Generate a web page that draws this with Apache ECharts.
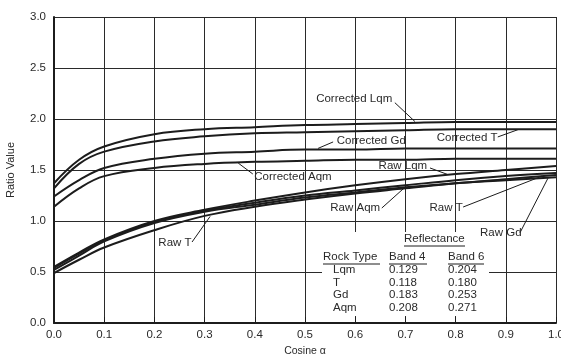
<!DOCTYPE html>
<html>
<head>
<meta charset="utf-8">
<script src="https://cdn.jsdelivr.net/npm/echarts@6/dist/echarts.min.js"></script>
<style>
html,body{margin:0;padding:0;background:#fff;}
#chart{width:561px;height:356px;}
</style>
</head>
<body>
<div id="chart"></div>
<script>
// ---- data ----
const cosineAlpha   = [0, 0.05, 0.1, 0.2, 0.3, 0.4, 0.5, 0.6, 0.7, 0.8, 0.9, 1.0];
const correctedLqm  = [1.37, 1.60, 1.73, 1.85, 1.90, 1.92, 1.94, 1.95, 1.96, 1.97, 1.97, 1.97];
const correctedT    = [1.32, 1.56, 1.68, 1.78, 1.83, 1.86, 1.87, 1.88, 1.89, 1.90, 1.90, 1.90];
const correctedGd   = [1.24, 1.40, 1.52, 1.61, 1.66, 1.68, 1.70, 1.70, 1.71, 1.71, 1.71, 1.71];
const correctedAqm  = [1.14, 1.32, 1.44, 1.52, 1.56, 1.58, 1.59, 1.60, 1.60, 1.61, 1.61, 1.61];
const rawLqm        = [0.55, 0.69, 0.82, 1.00, 1.11, 1.20, 1.28, 1.35, 1.41, 1.46, 1.50, 1.54];
const rawAqm        = [0.54, 0.68, 0.81, 0.99, 1.10, 1.18, 1.25, 1.30, 1.35, 1.40, 1.44, 1.47];
const rawGd         = [0.52, 0.66, 0.80, 0.98, 1.09, 1.16, 1.23, 1.28, 1.33, 1.37, 1.40, 1.43];
const rawT          = [0.49, 0.62, 0.74, 0.91, 1.05, 1.14, 1.21, 1.27, 1.32, 1.37, 1.41, 1.45];

const yTickLabels = ['0.0', '0.5', '1.0', '1.5', '2.0', '2.5', '3.0'];
const xTickLabels = ['0.0', '0.1', '0.2', '0.3', '0.4', '0.5', '0.6', '0.7', '0.8', '0.9', '1.0'];

const rockTypes = ['Lqm', 'T', 'Gd', 'Aqm'];
const band4     = ['0.129', '0.118', '0.183', '0.208'];
const band6     = ['0.204', '0.180', '0.253', '0.271'];

// annotation labels (data coordinates): text position, leader line start/end
const annotations = [
  { text: 'Corrected Lqm', at: [0.598, 2.20], from: [0.679, 2.16], to: [0.719, 1.975] },
  { text: 'Corrected Gd',  at: [0.632, 1.784], from: [0.556, 1.775], to: [0.526, 1.712] },
  { text: 'Corrected T',   at: [0.823, 1.814], from: [0.884, 1.824], to: [0.924, 1.895] },
  { text: 'Corrected Aqm', at: [0.476, 1.431], from: [0.396, 1.461], to: [0.367, 1.568] },
  { text: 'Raw Lqm',       at: [0.695, 1.540], from: [0.749, 1.520], to: [0.783, 1.458] },
  { text: 'Raw Aqm',       at: [0.600, 1.127], from: [0.653, 1.127], to: [0.699, 1.330] },
  { text: 'Raw T',         at: [0.781, 1.127], from: [0.815, 1.137], to: [0.972, 1.440] },
  { text: 'Raw Gd',        at: [0.890, 0.882], from: [0.928, 0.882], to: [0.984, 1.420] },
  { text: 'Raw T',         at: [0.241, 0.784], from: [0.275, 0.794], to: [0.311, 1.045] }
];

// ---- chart ----
const FONT = 'Liberation Sans, Arial, sans-serif';
const INK = '#1c1c1c';
const TXT = '#2a2a2a';

function zip(ys) { return cosineAlpha.map((x, i) => [x, ys[i]]); }

const curves = [
  ['Corrected Lqm', correctedLqm], ['Corrected T', correctedT],
  ['Corrected Gd', correctedGd], ['Corrected Aqm', correctedAqm],
  ['Raw Lqm', rawLqm], ['Raw Aqm', rawAqm], ['Raw Gd', rawGd], ['Raw T', rawT]
];

const series = curves.map(([name, ys]) => ({
  name: name,
  type: 'line',
  data: zip(ys),
  symbol: 'none',
  smooth: 0.4,
  lineStyle: { color: INK, width: 2 },
  silent: true,
  z: 3
}));

series.push({
  name: 'annotations',
  type: 'line',
  data: [],
  symbol: 'none',
  silent: true,
  z: 4,
  markLine: {
    silent: true,
    symbol: ['none', 'arrow'],
    symbolSize: [0, 6],
    lineStyle: { color: INK, width: 1, type: 'solid' },
    label: { show: false },
    data: annotations.map(a => [{ coord: a.from }, { coord: a.to }])
  },
  markPoint: {
    silent: true,
    symbol: 'circle',
    symbolSize: 0,
    itemStyle: { color: 'transparent' },
    label: {
      show: true,
      position: 'inside',
      color: TXT,
      fontFamily: FONT,
      fontSize: 11.5,
      formatter: p => p.name
    },
    data: annotations.map(a => ({ name: a.text, coord: a.at }))
  }
});

// reflectance table (drawn as text over a white box that hides the grid)
const tbl = [];
tbl.push({ type: 'rect', shape: { x: 322, y: 232, width: 167, height: 84 }, style: { fill: '#fff' }, z: 1, silent: true });
function txt(s, x, y) {
  tbl.push({ type: 'text', x: x, y: y, z: 51, silent: true,
    style: { text: s, fill: TXT, font: '11.5px ' + FONT, verticalAlign: 'middle', align: 'left' } });
}
function rule(x1, x2, y) {
  tbl.push({ type: 'line', z: 51, silent: true, shape: { x1: x1, y1: y, x2: x2, y2: y }, style: { stroke: INK, lineWidth: 1 } });
}
txt('Reflectance', 404, 239); rule(404, 465, 246);
txt('Rock Type', 323, 257); txt('Band 4', 389, 257); txt('Band 6', 448, 257);
rule(323, 380, 264); rule(389, 427, 264); rule(448, 484, 264);
const rowY = [270, 282.5, 295, 307.5];
rockTypes.forEach((r, i) => {
  txt(r, 333, rowY[i]);
  txt(band4[i], 389, rowY[i]);
  txt(band6[i], 448, rowY[i]);
});

const chart = echarts.init(document.getElementById('chart'), null, { renderer: 'canvas' });
chart.setOption({
  animation: false,
  backgroundColor: '#ffffff',
  grid: { left: 54, right: 5, top: 17, bottom: 33, containLabel: false, outerBoundsMode: 'none' },
  xAxis: {
    type: 'value', min: 0, max: 1, interval: 0.1,
    name: 'Cosine α', nameLocation: 'middle', nameGap: 21,
    nameTextStyle: { color: TXT, fontFamily: FONT, fontSize: 10.5 },
    axisLine: { show: true, lineStyle: { color: INK, width: 2 } },
    axisTick: { show: true, inside: true, length: 6, lineStyle: { color: INK, width: 1 } },
    axisLabel: { color: TXT, fontFamily: FONT, fontSize: 11.5, margin: 6,
      formatter: (v) => xTickLabels[Math.round(v * 10)] },
    splitLine: { show: true, lineStyle: { color: '#2a2a2a', width: 1 } }
  },
  yAxis: {
    type: 'value', min: 0, max: 3, interval: 0.5,
    name: 'Ratio Value', nameLocation: 'middle', nameGap: 38,
    nameTextStyle: { color: TXT, fontFamily: FONT, fontSize: 11 },
    axisLine: { show: true, lineStyle: { color: INK, width: 2 } },
    axisTick: { show: false },
    axisLabel: { color: TXT, fontFamily: FONT, fontSize: 11.5, margin: 8,
      formatter: (v) => yTickLabels[Math.round(v * 2)] },
    splitLine: { show: true, lineStyle: { color: '#2a2a2a', width: 1 } }
  },
  graphic: tbl,
  series: series
});
</script>
</body>
</html>
